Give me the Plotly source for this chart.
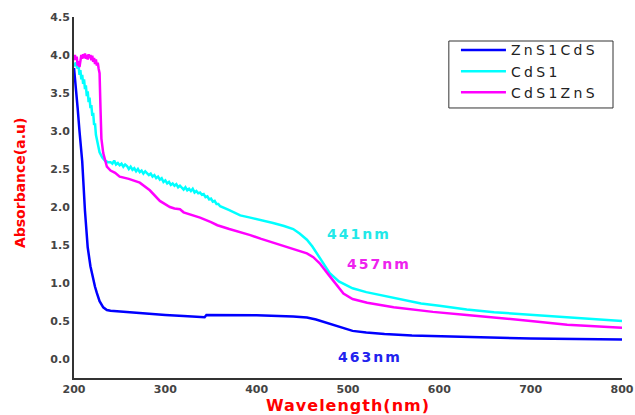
import plotly.graph_objects as go

# UV-Vis absorbance spectra of the three core/shell samples
zns1cds_nm = [200, 202, 204, 206, 209, 212, 215, 218, 220, 223, 225, 228, 232, 236, 240,
              250, 270, 300, 320, 335, 340, 343, 345, 360, 400, 440, 455, 465, 475, 485,
              495, 505, 520, 540, 570, 620, 660, 700, 800]
zns1cds_abs = [3.83, 3.6, 3.3, 3.0, 2.6, 1.95, 1.47, 1.22, 1.1, 0.95, 0.87, 0.76, 0.68, 0.645, 0.635,
               0.625, 0.61, 0.58, 0.565, 0.55, 0.545, 0.55, 0.58, 0.58, 0.575, 0.56, 0.545, 0.52, 0.48, 0.44,
               0.40, 0.37, 0.35, 0.33, 0.31, 0.295, 0.28, 0.27, 0.255]

cds1_nm = [200, 202, 204, 205, 206, 207, 208, 209, 210, 211, 212, 213, 214, 215, 216, 217, 218,
           219, 220, 221, 222, 223, 224, 225, 226, 228, 231, 234, 237,
           240, 242, 244, 246, 248, 250, 252, 254, 256, 258, 260, 262, 264, 266, 268, 270,
           272, 274, 276, 278, 280, 282, 284, 286, 288, 290, 292, 294, 296, 298, 300, 302,
           304, 306, 308, 310, 312, 314, 316, 318, 320, 322, 324, 326, 328, 330, 332, 334,
           336, 338, 340, 342, 344, 346, 348, 350, 352, 354, 356, 358, 360,
           370, 382, 393, 405, 418, 430, 440, 447, 455, 461, 466,
           473, 480, 490, 505, 520, 540, 557, 580, 600, 630, 660, 700, 740, 770, 800]
cds1_abs = [3.85, 3.9, 3.82, 3.86, 3.74, 3.8, 3.68, 3.74, 3.62, 3.68, 3.55, 3.6, 3.46, 3.52, 3.38, 3.44, 3.3,
            3.34, 3.2, 3.24, 3.08, 3.1, 2.95, 2.88, 2.82, 2.72, 2.65, 2.61, 2.59,
            2.59, 2.57, 2.61, 2.56, 2.58, 2.55, 2.57, 2.53, 2.56, 2.54, 2.50, 2.53, 2.49, 2.51, 2.47, 2.50,
            2.46, 2.48, 2.44, 2.47, 2.45, 2.42, 2.44, 2.40, 2.42, 2.38, 2.40, 2.36, 2.38, 2.33, 2.35, 2.31,
            2.33, 2.29, 2.31, 2.28, 2.30, 2.26, 2.28, 2.25, 2.23, 2.26, 2.22, 2.24, 2.21, 2.24, 2.19, 2.21,
            2.18, 2.19, 2.16, 2.17, 2.13, 2.14, 2.10, 2.11, 2.07, 2.08, 2.04, 2.04, 2.01,
            1.96, 1.89, 1.86, 1.83, 1.79, 1.75, 1.71, 1.65, 1.57, 1.48, 1.39,
            1.25, 1.13, 1.02, 0.93, 0.88, 0.83, 0.78, 0.73, 0.7, 0.65, 0.615, 0.58, 0.545, 0.52, 0.5]

cds1zns_nm = [200, 201, 202, 203, 204, 205, 206, 207, 208, 209, 210, 211, 212, 213, 214, 215,
              216, 217, 218, 219, 220, 221, 222, 223, 224, 225, 226, 227, 228, 229, 230, 232,
              234, 236, 240, 245, 250, 260, 272, 283, 294, 305, 310, 316, 320, 328, 338, 350,
              357, 370, 382, 393, 405, 418, 440, 455, 462, 469, 478, 488, 495, 505, 521, 550,
              593, 630, 667, 700, 740, 770, 800]
cds1zns_abs = [3.93, 4.0, 3.94, 3.98, 3.86, 3.92, 3.84, 3.97, 4.0, 3.95, 4.01, 3.96, 4.02, 3.95, 4.0, 3.94,
               4.01, 3.96, 4.0, 3.93, 3.99, 3.91, 3.96, 3.88, 3.94, 3.86, 3.9, 3.82, 3.76, 3.3, 2.9, 2.71,
               2.6, 2.53, 2.48, 2.45, 2.4, 2.37, 2.32, 2.22, 2.08, 2.0, 1.98, 1.97, 1.93, 1.9, 1.86, 1.8,
               1.76, 1.71, 1.67, 1.63, 1.58, 1.53, 1.45, 1.39, 1.34, 1.26, 1.12, 0.97, 0.86, 0.79, 0.74, 0.68,
               0.62, 0.58, 0.54, 0.5, 0.45, 0.43, 0.41]

series_names = ["ZnS1CdS", "CdS1", "CdS1ZnS"]
series_colors = ["#0000ff", "#00ffff", "#ff00ff"]

# Band-edge labels: text, anchor wavelength, anchor absorbance, colour
edge_text = ["441nm", "457nm", "463nm"]
edge_x = [512, 534, 524]
edge_y = [1.64, 1.25, 0.03]
edge_colors = ["#22e8e8", "#ee22ee", "#2222ee"]

x_ticks = [200, 300, 400, 500, 600, 700, 800]
y_ticks = [0.0, 0.5, 1.0, 1.5, 2.0, 2.5, 3.0, 3.5, 4.0, 4.5]

fig = go.Figure()
for xs, ys, name, color in zip([zns1cds_nm, cds1_nm, cds1zns_nm],
                               [zns1cds_abs, cds1_abs, cds1zns_abs],
                               series_names, series_colors):
    fig.add_trace(go.Scatter(x=xs, y=ys, mode="lines", name=name,
                             line=dict(color=color, width=2.5)))

for t, x, y, c in zip(edge_text, edge_x, edge_y, edge_colors):
    fig.add_annotation(x=x, y=y, text=t, showarrow=False,
                       font=dict(family="DejaVu Sans", size=14, color=c, weight="bold"))

# vertical axis title, placed a little above the axis centre
fig.add_annotation(x=-0.0985, y=0.54, xref="paper", yref="paper", text="Absorbance(a.u)",
                   textangle=-90, showarrow=False, xanchor="center", yanchor="middle",
                   font=dict(family="DejaVu Sans", size=14, color="#ff0000", weight="bold"))

# frame around the legend
fig.add_shape(type="rect", xref="paper", yref="paper", x0=0.684, x1=0.9836, y0=0.748, y1=0.9335,
              line=dict(color="#333333", width=1), fillcolor="rgba(0,0,0,0)", layer="above")

tick_font = dict(family="DejaVu Sans", size=11, color="#444444", weight="bold")
title_font = dict(family="DejaVu Sans", size=16, color="#ff0000", weight="bold")

fig.update_layout(
    width=635, height=415,
    margin=dict(l=74, r=13, t=17, b=37),
    paper_bgcolor="white", plot_bgcolor="white",
    showlegend=True,
    legend=dict(x=0.697, y=0.952, xanchor="left", yanchor="top",
                bgcolor="rgba(0,0,0,0)", borderwidth=0, itemwidth=45,
                font=dict(family="DejaVu Sans", size=14, color="#222222"),
                tracegroupgap=0),
    xaxis=dict(range=[200, 800], tickvals=x_ticks, ticktext=[str(v) for v in x_ticks],
               showgrid=False, zeroline=False, showline=True, linecolor="#333333",
               linewidth=2, ticks="", tickfont=tick_font, automargin=False,
               title=dict(text="Wavelength(nm)", font=title_font, standoff=6)),
    yaxis=dict(range=[-0.25, 4.5], tickvals=y_ticks, ticktext=[f"{v:.1f}" for v in y_ticks],
               showgrid=False, zeroline=False, showline=True, linecolor="#333333",
               linewidth=2, ticks="", tickfont=tick_font, automargin=False),
)

# widen the character spacing of the legend entries, band-edge labels and x title;
# the legend clip box is enlarged so the wider entries are not cut off
spacing_js = """
document.querySelectorAll('clipPath[id^="legend"] rect').forEach(function(r){ r.setAttribute('width', 400); });
document.querySelectorAll('.legendtext').forEach(function(t){ t.style.letterSpacing = '3.3px'; });
document.querySelectorAll('.annotation-text').forEach(function(t){
    if (/^\\d{3}nm$/.test(t.textContent)) { t.style.letterSpacing = '2px'; }
});
document.querySelectorAll('.xtitle').forEach(function(t){ t.style.letterSpacing = '1px'; });
"""

fig.write_html("out.html", post_script=spacing_js)
